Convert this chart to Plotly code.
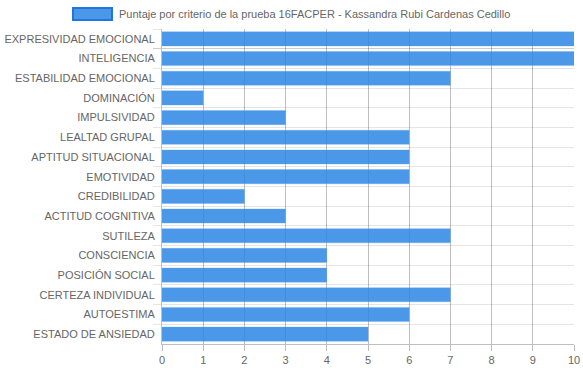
import plotly.graph_objects as go

categories = [
    "EXPRESIVIDAD EMOCIONAL", "INTELIGENCIA", "ESTABILIDAD EMOCIONAL", "DOMINACIÓN",
    "IMPULSIVIDAD", "LEALTAD GRUPAL", "APTITUD SITUACIONAL", "EMOTIVIDAD",
    "CREDIBILIDAD", "ACTITUD COGNITIVA", "SUTILEZA", "CONSCIENCIA",
    "POSICIÓN SOCIAL", "CERTEZA INDIVIDUAL", "AUTOESTIMA", "ESTADO DE ANSIEDAD",
]
values = [10, 10, 7, 1, 3, 6, 6, 6, 2, 3, 7, 4, 4, 7, 6, 5]
series_name = "Puntaje por criterio de la prueba 16FACPER - Kassandra Rubi Cardenas Cedillo"
x_ticks = list(range(0, 11))

W, H = 583, 368
ML, MR, MT, MB = 162, 9, 29, 24
PW, PH = W - ML - MR, H - MT - MB

def px_x(p):
    return (p - ML) / PW

def px_y(p):
    return (H - MB - p) / PH

fill = "rgba(40,132,228,0.84)"
edge = "rgb(30,118,222)"
font = dict(family="Liberation Sans, Arial, Helvetica, sans-serif", size=11, color="#666")

fig = go.Figure(go.Bar(
    x=values, y=categories, orientation="h", name=series_name,
    marker=dict(color=fill, line=dict(color="rgba(90,165,240,0.6)", width=0.5)),
    showlegend=False, hoverinfo="skip",
))

fig.update_layout(
    width=W, height=H,
    margin=dict(l=ML, r=MR, t=MT, b=MB, pad=0),
    paper_bgcolor="white", plot_bgcolor="white",
    font=font,
    bargap=0.28,
    xaxis=dict(
        range=[0, 10], tickvals=x_ticks, showgrid=True, automargin=False,
        gridcolor="rgba(0,0,0,0.25)", gridwidth=1,
        ticks="outside", ticklen=6, tickcolor="rgba(0,0,0,0.25)",
        showline=True, linecolor="rgba(0,0,0,0.25)", zeroline=False,
        tickfont=font, fixedrange=True,
    ),
    yaxis=dict(
        type="category", autorange="reversed", tickson="boundaries", automargin=False,
        showgrid=True, gridcolor="rgba(0,0,0,0.1)", gridwidth=1,
        ticks="outside", ticklen=8, tickcolor="rgba(0,0,0,0.1)",
        ticklabelstandoff=4,
        showline=True, linecolor="rgba(0,0,0,0.25)", zeroline=False,
        tickfont=font, fixedrange=True,
    ),
    shapes=[dict(
        type="rect", xref="paper", yref="paper",
        x0=px_x(73), x1=px_x(112), y0=px_y(20), y1=px_y(8),
        fillcolor=fill, line=dict(color=edge, width=2),
    )],
    annotations=[dict(
        text=series_name, xref="paper", yref="paper",
        x=px_x(117), y=px_y(14), xanchor="left", yanchor="middle",
        showarrow=False, font=font,
    )],
)

fig.write_html(
    "out.html",
    config={"displayModeBar": False},
    post_script="document.body.style.margin='0';document.body.style.overflow='hidden';",
)
